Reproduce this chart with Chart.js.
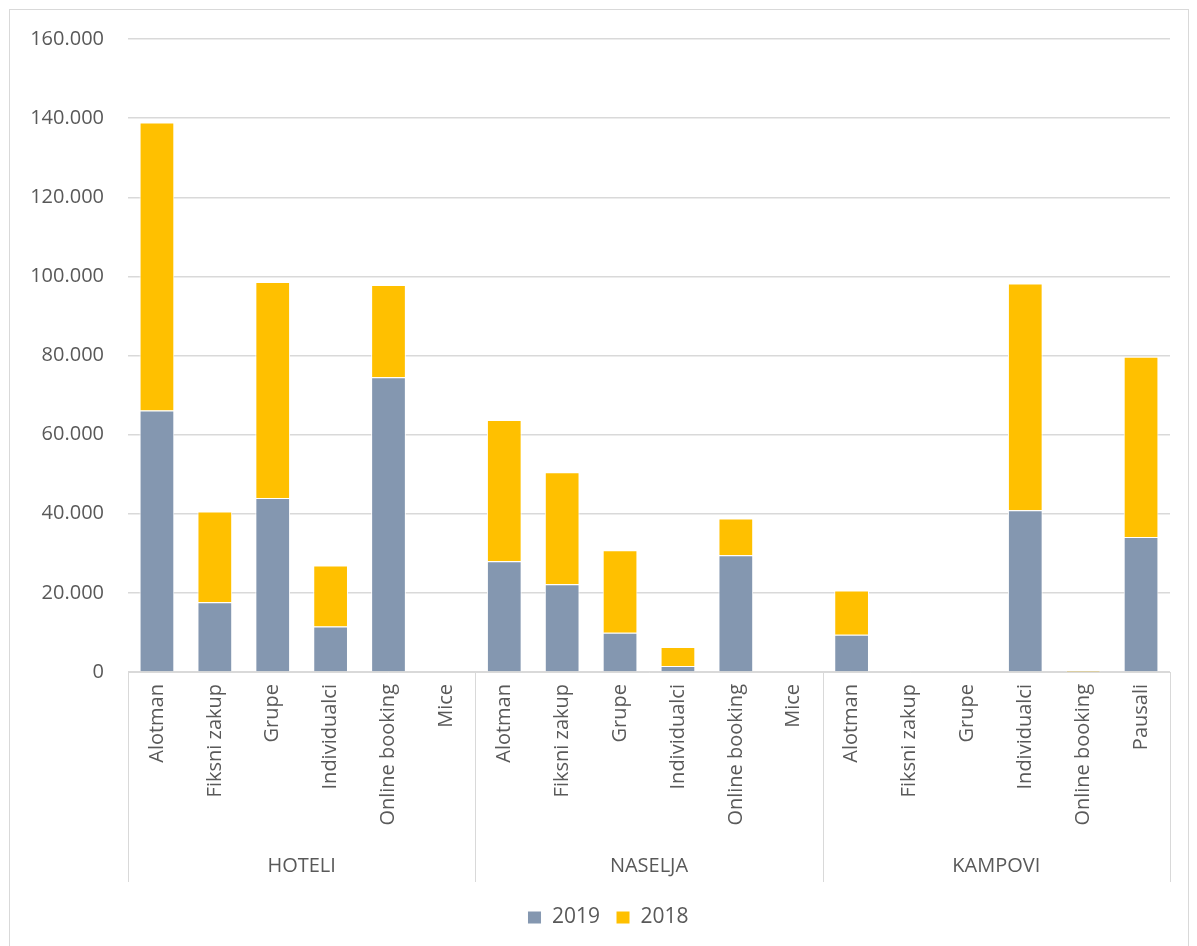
<!DOCTYPE html>
<html>
    <head>
        <script src="https://cdn.jsdelivr.net/npm/chart.js"></script>
        <style>
            body {
                margin: 0;
                background: #ffffff;
            }
            #frame {
                position: absolute;
                left: 9px;
                top: 9px;
                width: 1180px;
                height: 960px;
                border: 1px solid #d9d9d9;
                box-sizing: border-box;
            }
            #wrap {
                position: absolute;
                left: 0;
                top: 0;
                width: 1197px;
                height: 946px;
            }
        </style>
    </head>
    <body>
        <div id="frame"></div>
        <div id="wrap">
            <canvas id="myChart"></canvas>
        </div>

        <script>
            const groups = ['HOTELI', 'NASELJA', 'KAMPOVI'];
            const hoteliCats = ['Alotman', 'Fiksni zakup', 'Grupe', 'Individualci', 'Online booking', 'Mice'];
            const naseljaCats = ['Alotman', 'Fiksni zakup', 'Grupe', 'Individualci', 'Online booking', 'Mice'];
            const kampoviCats = ['Alotman', 'Fiksni zakup', 'Grupe', 'Individualci', 'Online booking', 'Pausali'];

            const values2019 = [
                66100, 17600, 44000, 11500, 74500, 0,
                28000, 22200, 9900, 1500, 29500, 0,
                9400, 0, 0, 40900, 100, 34100
            ];
            const values2018 = [
                72800, 23000, 54600, 15400, 23300, 0,
                35700, 28300, 20900, 4800, 9300, 0,
                11200, 0, 0, 57300, 300, 45600
            ];

            const yTicks = [0, 20000, 40000, 60000, 80000, 100000, 120000, 140000, 160000];

            const catGroups = [hoteliCats, naseljaCats, kampoviCats];
            const labels = [];
            catGroups.forEach(function (g) {
                g.forEach(function (c) { labels.push(c); });
            });

            const textColor = '#595959';
            const gridColor = '#d9d9d9';
            const fontFamily = "'Open Sans', sans-serif";

            function fmt(v) {
                return v.toString().replace(/\B(?=(\d{3})+(?!\d))/g, '.');
            }

            // draws the group row under the rotated category labels
            const groupAxis = {
                id: 'groupAxis',
                afterLayout(chart) {
                    // legend sits a bit right of centre in the original
                    chart.legend.left += 23;
                    chart.legend.right += 23;
                },
                afterDraw(chart) {
                    const ctx = chart.ctx;
                    const x = chart.scales.x;
                    const area = chart.chartArea;
                    const bottom = 882;
                    ctx.save();
                    ctx.strokeStyle = gridColor;
                    ctx.lineWidth = 1;
                    let start = 0;
                    const edges = [area.left];
                    catGroups.forEach(function (g, gi) {
                        const end = start + g.length - 1;
                        const right = gi === catGroups.length - 1
                            ? area.right
                            : (x.getPixelForValue(end) + x.getPixelForValue(end + 1)) / 2;
                        edges.push(right);
                        const left = edges[gi];
                        ctx.fillStyle = textColor;
                        ctx.font = '20px ' + fontFamily;
                        ctx.textAlign = 'center';
                        ctx.textBaseline = 'middle';
                        ctx.fillText(groups[gi], (left + right) / 2, 866);
                        start = end + 1;
                    });
                    edges.forEach(function (e) {
                        const px = Math.round(e) + 0.5;
                        ctx.beginPath();
                        ctx.moveTo(px, area.bottom);
                        ctx.lineTo(px, bottom);
                        ctx.stroke();
                    });
                    ctx.restore();
                }
            };

            const ctx = document.getElementById('myChart').getContext('2d');
            const myChart = new Chart(ctx, {
                type: 'bar',
                data: {
                    labels: labels,
                    datasets: [
                        {
                            label: '2019',
                            data: values2019,
                            backgroundColor: '#8497b0',
                            borderColor: '#ffffff',
                            borderWidth: 1,
                            barPercentage: 0.6,
                            categoryPercentage: 1
                        }, {
                            label: '2018',
                            data: values2018,
                            backgroundColor: '#ffc000',
                            borderColor: '#ffffff',
                            borderWidth: 1,
                            barPercentage: 0.6,
                            categoryPercentage: 1
                        }
                    ]
                },
                options: {
                    responsive: true,
                    maintainAspectRatio: false,
                    animation: false,
                    layout: {
                        padding: { left: 0, right: 27, top: 39, bottom: 8 }
                    },
                    plugins: {
                        tooltip: { enabled: false },
                        legend: {
                            position: 'bottom',
                            labels: {
                                color: textColor,
                                font: { family: fontFamily, size: 21 },
                                boxWidth: 14,
                                boxHeight: 13,
                                padding: 16
                            }
                        }
                    },
                    scales: {
                        x: {
                            stacked: true,
                            grid: { display: false },
                            border: { color: gridColor },
                            ticks: {
                                color: textColor,
                                font: { family: fontFamily, size: 20 },
                                minRotation: 90,
                                maxRotation: 90,
                                autoSkip: false,
                                padding: 4
                            },
                            afterFit(scale) {
                                scale.height = 219;
                            }
                        },
                        y: {
                            stacked: true,
                            min: 0,
                            max: 160000,
                            afterBuildTicks(scale) {
                                scale.ticks = yTicks.map(function (v) { return { value: v }; });
                            },
                            grid: { color: gridColor, lineWidth: 1.5, drawTicks: false },
                            border: { display: false },
                            ticks: {
                                color: textColor,
                                font: { family: fontFamily, size: 20 },
                                padding: 24,
                                callback: function (v) { return fmt(v); }
                            },
                            afterFit(scale) {
                                scale.width = 128;
                            }
                        }
                    }
                },
                plugins: [groupAxis]
            });
        </script>
    </body>
</html>
